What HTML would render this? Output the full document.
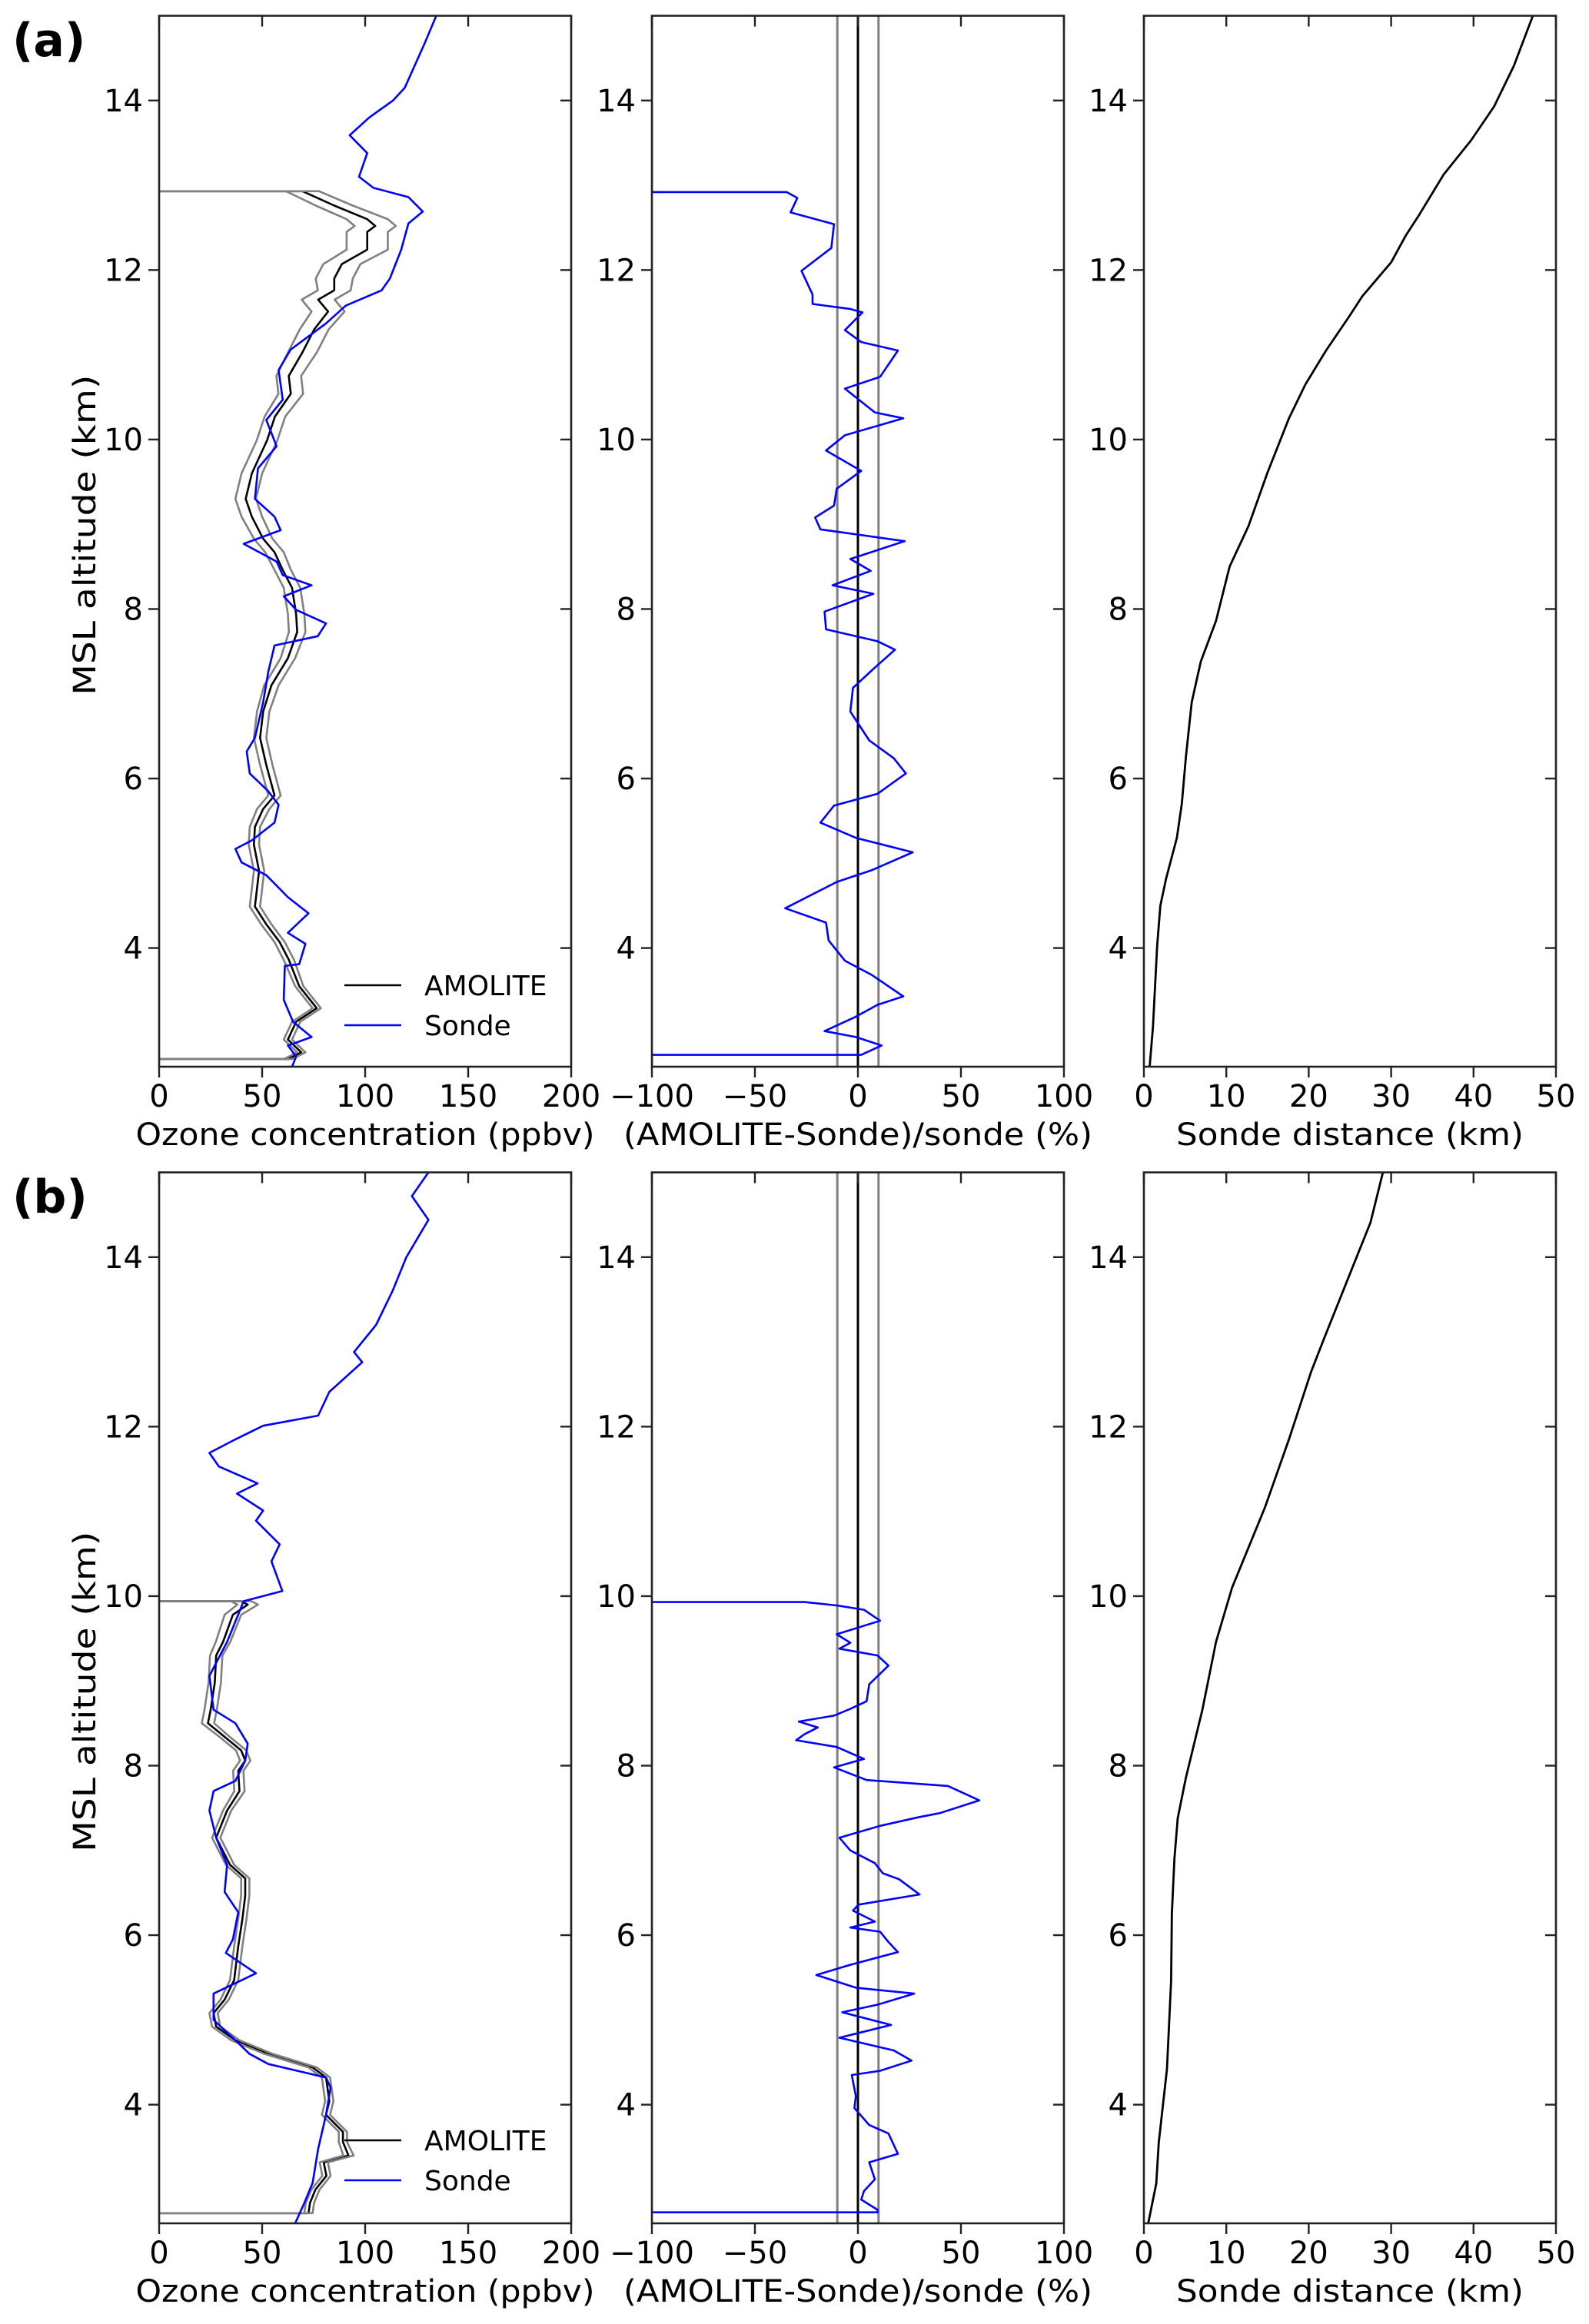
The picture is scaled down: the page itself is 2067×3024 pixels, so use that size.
<!DOCTYPE html>
<html><head><meta charset="utf-8"><title>AMOLITE vs Sonde ozone profiles</title>
<style>html,body{margin:0;padding:0;background:#fff}svg{display:block}text{font-family:"DejaVu Sans","Liberation Sans",sans-serif;fill:#000}</style>
</head><body>
<svg id="fig" xmlns="http://www.w3.org/2000/svg" width="2067" height="3024" viewBox="0 0 2067 3024"></svg>
<script>
// ---------- DATA ----------
const yTicks = [4,6,8,10,12,14];
const xTicksOzone = [0,50,100,150,200];
const xTicksDiff = [-100,-50,0,50,100];
const xTicksDist = [0,10,20,30,40,50];
const diffRefLines = [-10,0,10];

// Row (a)
const sondeA_alt = [15.0,14.67,14.15,14.0,13.8,13.59,13.38,13.1,12.97,12.86,12.69,12.55,12.24,11.9,11.76,11.58,11.37,11.06,10.82,10.47,10.23,9.92,9.66,9.3,9.09,8.93,8.77,8.56,8.4,8.28,8.15,7.99,7.83,7.68,7.57,7.26,6.9,6.48,6.32,6.06,5.85,5.69,5.48,5.27,5.17,5.01,4.86,4.6,4.41,4.18,4.05,3.81,3.79,3.39,3.13,2.95,2.85,2.72,2.6];
const sondeA_val = [134.5,128.8,119.2,113.5,102,92.5,101,97,104,121,128,121,117.5,112,108,90.6,81,63.8,58,60,52,57,48,46.5,56,59,41,57,60,74,60.5,66.5,81,77,56,53,50.5,46.5,42.5,44,53,58,56,45,37,40,52,62.5,72.5,62.5,71,68,61,60.5,65,74,62.5,66.5,64.5];
const amoA_alt = [12.93,12.93,12.76,12.6,12.52,12.45,12.24,12.07,11.9,11.76,11.65,11.51,11.3,11.03,10.75,10.54,10.27,9.99,9.6,9.3,9.09,8.83,8.67,8.46,8.25,7.94,7.73,7.42,7.1,6.79,6.48,6.16,5.8,5.64,5.43,5.22,4.91,4.49,4.28,4.07,3.86,3.55,3.29,3.13,2.92,2.77,2.69,2.69];
const amoA_val = [0,69.6,85,101,104.9,101,101,88.7,85,85,77.2,82,75.3,69.6,62.9,63.9,56.2,52.4,45,42,45,50.5,56,60,64.5,66.5,67,62.5,54.5,50.5,49,52,56,50.5,46.5,46,48.5,46.5,52,58.5,63,68,76.5,66.5,62.5,69,62.5,0];
const amoA_err = [0,8,9,10,10,10,10,9,9,8,8,8,7,7,6,6,5,5,5,5,5,4.5,4.5,4,4,4,4,3.5,3.5,3,3,3,3,3,2.5,2.5,2.5,2.5,2.5,2.5,2.5,2,2,2,2,2,2,0];
const diffA_alt = [15,12.92,12.92,12.85,12.68,12.54,12.26,11.99,11.71,11.6,11.54,11.5,11.29,11.15,11.05,10.74,10.6,10.32,10.25,10.05,9.87,9.63,9.42,9.22,9.08,8.94,8.8,8.59,8.45,8.28,8.18,7.97,7.76,7.62,7.52,7.28,7.07,6.79,6.45,6.24,6.06,5.82,5.68,5.48,5.3,5.13,4.92,4.78,4.47,4.3,4.09,3.85,3.68,3.43,3.33,3.19,3.02,2.95,2.85,2.74,2.74,2.6];
const diffA_val = [-100,-100,-34.6,-29.4,-32.7,-11.6,-12.9,-27.4,-22,-22,-3.7,2.2,-6.3,1.6,19.4,10.8,-6.3,8.2,22,-6.3,-15.5,1.6,-10.3,-11.6,-20.8,-18.2,22.7,-3.7,6.2,-12.3,7.5,-16.2,-15.5,9.5,18,6.9,-2.4,-3.7,5.5,17.4,23.3,9.5,-11.6,-18.2,-1,26.6,6.9,-10.3,-35.3,-15.5,-14.2,-6.3,6.9,22,9.5,-1,-16.2,-1,11.5,1.6,-100,-100];
const distA_alt = [2.59,3.07,4.02,4.5,4.82,5.3,5.7,6.26,6.9,7.38,7.86,8.5,8.98,9.61,10.25,10.65,11.05,11.45,11.69,12.09,12.41,12.65,13.13,13.53,13.93,14.41,15.0];
const distA_val = [0.69,1.1,1.6,2.0,2.7,4.0,4.6,5.1,5.8,6.9,8.75,10.4,12.7,15.0,17.6,19.6,22.1,24.9,26.5,30,31.8,33.4,36.4,39.7,42.5,44.9,47.2];

// Row (b)
const sondeB_alt = [15.0,14.72,14.44,14.0,13.6,13.2,12.88,12.76,12.41,12.13,12.01,11.85,11.69,11.53,11.33,11.21,11.01,10.89,10.61,10.41,10.06,9.94,9.46,9.06,8.66,8.5,8.26,8.06,7.82,7.7,7.47,7.15,6.83,6.51,6.27,5.95,5.79,5.55,5.31,5.0,4.76,4.6,4.48,4.32,4.2,3.88,3.48,3.08,2.84,2.6];
const sondeB_val = [130.7,122.7,130.7,120,113.3,105.3,94.6,98.6,82.6,77.2,50.5,37,24.4,29,47.8,37.8,50.5,47,58.5,54.5,59.8,41,33,24.4,26.4,37,43,41.8,37,26.4,24.4,27.7,33,31.8,38.4,35.8,32.4,47,26.4,26.4,37,43.8,53,81,83.2,81,77.2,74.5,70.5,66];
const amoB_alt = [9.94,9.94,9.9,9.78,9.46,9.3,8.98,8.66,8.5,8.34,8.18,8.06,7.94,7.7,7.47,7.15,6.83,6.67,6.47,6.19,5.87,5.47,5.24,5.08,4.92,4.76,4.6,4.44,4.32,4.04,3.88,3.68,3.56,3.4,3.32,3.16,3.0,2.84,2.72,2.72];
const amoB_val = [0,39.8,43,35.8,31,27.7,27,25,23.7,31.8,39.8,41.8,38.4,39,33,27.7,34.4,41.8,41.8,40.4,38.4,36.4,31.8,26.4,27.7,37,53,74.5,81,82.6,81,89.2,89.2,91.9,79.9,81.2,75.9,73.2,72.5,0];
const amoB_err = [0,5,5,4,3.5,3,3,3,3,2.5,2.5,2.5,2.5,2.5,2,2,2,2,2,2,2,2,2,2,2,2,2,2,2,2,2,2,2,2.5,2,2,2,2,2,0];
const diffB_alt = [9.93,9.93,9.89,9.84,9.71,9.55,9.45,9.38,9.3,9.18,8.96,8.76,8.67,8.59,8.52,8.45,8.37,8.3,8.22,8.08,7.98,7.83,7.76,7.59,7.44,7.39,7.29,7.15,7.0,6.85,6.73,6.66,6.48,6.36,6.29,6.16,6.09,6.04,5.92,5.8,5.65,5.53,5.38,5.31,5.18,5.09,4.94,4.79,4.64,4.52,4.4,4.35,4.1,3.96,3.76,3.66,3.42,3.32,3.12,2.98,2.88,2.76,2.73,2.73];
const diffB_val = [-100,-26,-10.3,2.9,10.8,-10.3,-3.7,-9,9.5,14.8,5.5,4.2,-3.7,-11.6,-28.7,-19.5,-26,-30,-10.3,2.9,-11.6,4.2,43.7,58.9,39.8,29.2,10.8,-9,-3.7,8.2,12.1,20,29.9,0.3,-2.4,8.2,-3.7,10.8,14.8,19.4,-3.7,-20.2,-1,27.3,9.5,-7.6,16.1,-9,17.4,26,10.8,-3,-1,-1.7,5.5,14.8,19.4,5.5,8.2,2.9,1.6,9.5,9.5,-100];
const distB_alt = [2.59,3.07,3.55,4.42,5.46,6.26,6.9,7.38,7.86,8.66,9.46,10.1,11.05,11.85,12.65,13.05,13.85,14.41,15.0];
const distB_val = [0.5,1.5,1.8,2.8,3.3,3.4,3.7,4.1,5.1,7.1,8.75,10.7,14.7,17.6,20.3,21.9,25.2,27.5,29.0];

// ---------- DRAWING ----------
const NS = "http://www.w3.org/2000/svg";
const svg = document.getElementById('fig');
function mk(tag, attrs, parent){
  const e = document.createElementNS(NS, tag);
  for (const k in attrs) e.setAttribute(k, attrs[k]);
  (parent||svg).appendChild(e);
  return e;
}
const ALT_MIN = 2.6, ALT_MAX = 15.0;
const colX = [[207,743],[848,1384],[1488,2024]];
const rowY = [[20.5,1388],[1525.5,2893]];
const defs = mk('defs', {});

function makeAxes(ci, ri, xmin, xmax){
  const [x0,x1] = colX[ci], [y0,y1] = rowY[ri];
  const xs = v => x0 + (v-xmin)/(xmax-xmin)*(x1-x0);
  const ys = a => y1 - (a-ALT_MIN)/(ALT_MAX-ALT_MIN)*(y1-y0);
  const id = 'clip'+ri+ci;
  const cp = mk('clipPath', {id:id}, defs);
  mk('rect', {x:x0, y:y0, width:x1-x0, height:y1-y0}, cp);
  const g = mk('g', {'clip-path':'url(#'+id+')'});
  return {x0,x1,y0,y1,xs,ys,g};
}
function pathD(ax, vals, alts, off){
  let d = '';
  for (let i=0;i<vals.length;i++){
    const v = vals[i] + (off ? off[i] : 0);
    d += (i?'L':'M') + ax.xs(v).toFixed(1) + ',' + ax.ys(alts[i]).toFixed(1);
  }
  return d;
}
function frame(ax, xTicks, xLabel, labelLen, yLabel){
  const {x0,x1,y0,y1,xs,ys} = ax;
  const g = mk('g', {});
  
  
  mk('rect', {x:x0, y:y0, width:x1-x0, height:y1-y0, fill:'none', stroke:'#222', 'stroke-width':2.6}, g);
  yTicks.forEach(t => {
    const y = ys(t);
    mk('line', {x1:x0-14, x2:x0, y1:y, y2:y, stroke:'#222', 'stroke-width':2.4}, g);
    mk('line', {x1:x1-14, x2:x1, y1:y, y2:y, stroke:'#222', 'stroke-width':2.4}, g);
    const tl = mk('text', {x:x0-21, y:y+14, 'text-anchor':'end', 'font-size':40}, g);
    
    
    tl.textContent = t;
  });
  xTicks.forEach(t => {
    const x = xs(t);
    mk('line', {x1:x, x2:x, y1:y1, y2:y1+14, stroke:'#222', 'stroke-width':2.4}, g);
    mk('line', {x1:x, x2:x, y1:y0, y2:y0+14, stroke:'#222', 'stroke-width':2.4}, g);
    const tl = mk('text', {x:x, y:y1+52, 'text-anchor':'middle', 'font-size':40}, g);
    
    
    tl.textContent = (t<0 ? '\u2212'+(-t) : t);
  });
  const xl = mk('text', {x:(x0+x1)/2, y:y1+102, 'text-anchor':'middle', 'font-size':40, textLength:labelLen, lengthAdjust:'spacingAndGlyphs'}, g);
  
  
  xl.textContent = xLabel;
  if (yLabel){
    const cy = (y0+y1)/2 - 8;
    const yl = mk('text', {x:0, y:0, transform:'translate(124,'+cy+') rotate(-90)', 'text-anchor':'middle', 'font-size':40, textLength:417, lengthAdjust:'spacingAndGlyphs'}, g);
    
    
    yl.textContent = yLabel;
  }
}
function line(ax, d, color, w, name){
  const p = mk('path', {d:d, fill:'none', stroke:color, 'stroke-width':w, 'stroke-linejoin':'round'}, ax.g);
  
  
  return p;
}
function ozonePanel(ri, sAlt, sVal, aAlt, aVal, aErr, legY){
  const ax = makeAxes(0, ri, 0, 200);
  const neg = aErr.map(e => -e);
  line(ax, pathD(ax, aVal, aAlt), '#000', 2.6, 'amolite-profile');
  line(ax, pathD(ax, aVal, aAlt, neg), '#808080', 2.6, 'amolite-lower-bound');
  line(ax, pathD(ax, aVal, aAlt, aErr), '#808080', 2.6, 'amolite-upper-bound');
  line(ax, pathD(ax, sVal, sAlt), '#0000ff', 2.6, 'sonde-profile');
  frame(ax, xTicksOzone, 'Ozone concentration (ppbv)', 597, 'MSL altitude (km)');
  const lg = mk('g', {});
  
  
  mk('line', {x1:448, x2:522, y1:legY, y2:legY, stroke:'#000', 'stroke-width':2.6}, lg);
  const t1 = mk('text', {x:552, y:legY+13, 'font-size':36}, lg);
  
  
  t1.textContent = 'AMOLITE';
  mk('line', {x1:448, x2:522, y1:legY+52, y2:legY+52, stroke:'#0000ff', 'stroke-width':2.6}, lg);
  const t2 = mk('text', {x:552, y:legY+65, 'font-size':36}, lg);
  
  
  t2.textContent = 'Sonde';
}
function diffPanel(ri, dAlt, dVal){
  const ax = makeAxes(1, ri, -100, 100);
  diffRefLines.forEach(v => {
    const r = mk('line', {x1:ax.xs(v), x2:ax.xs(v), y1:ax.y0, y2:ax.y1, stroke:(v===0?'#000':'#808080'), 'stroke-width':3}, ax.g);
    
    
  });
  line(ax, pathD(ax, dVal, dAlt), '#0000ff', 2.6, 'relative-difference-profile');
  frame(ax, xTicksDiff, '(AMOLITE-Sonde)/sonde (%)', 610, null);
}
function distPanel(ri, dAlt, dVal){
  const ax = makeAxes(2, ri, 0, 50);
  line(ax, pathD(ax, dVal, dAlt), '#000', 2.8, 'sonde-distance-profile');
  frame(ax, xTicksDist, 'Sonde distance (km)', 452, null);
}

ozonePanel(0, sondeA_alt, sondeA_val, amoA_alt, amoA_val, amoA_err, 1282);
diffPanel(0, diffA_alt, diffA_val);
distPanel(0, distA_alt, distA_val);
ozonePanel(1, sondeB_alt, sondeB_val, amoB_alt, amoB_val, amoB_err, 2785);
diffPanel(1, diffB_alt, diffB_val);
distPanel(1, distB_alt, distB_val);

const la = mk('text', {x:16, y:73, 'font-size':60, 'font-weight':'bold'});


la.textContent = '(a)';
const lb = mk('text', {x:16, y:1578, 'font-size':60, 'font-weight':'bold'});


lb.textContent = '(b)';
</script>
</body></html>
